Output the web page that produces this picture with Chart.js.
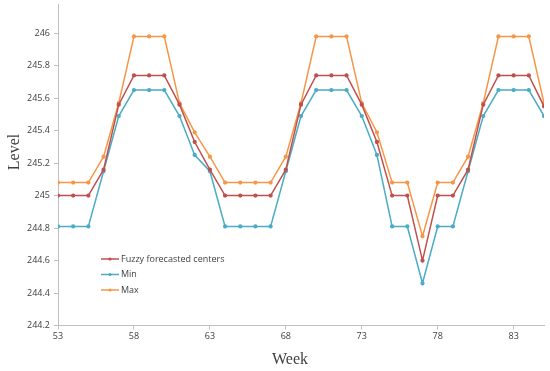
<!DOCTYPE html>
<html>
<head>
<meta charset="utf-8">
<script src="https://cdn.jsdelivr.net/npm/chart.js@4/dist/chart.umd.min.js"></script>
<style>
  html, body { margin: 0; padding: 0; background: #fff; }
  #wrap { width: 550px; height: 371px; }
</style>
</head>
<body>
<div id="wrap"><canvas id="myChart"></canvas></div>
<script>
// data
var weeks = [53,54,55,56,57,58,59,60,61,62,63,64,65,66,67,68,69,70,71,72,73,74,75,76,77,78,79,80,81,82,83,84,85];
var centers = [245.0,245.0,245.0,245.16,245.56,245.74,245.74,245.74,245.56,245.33,245.16,245.0,245.0,245.0,245.0,245.16,245.56,245.74,245.74,245.74,245.56,245.33,245.0,245.0,244.6,245.0,245.0,245.16,245.56,245.74,245.74,245.74,245.55];
var minVals = [244.81,244.81,244.81,245.15,245.49,245.65,245.65,245.65,245.49,245.25,245.15,244.81,244.81,244.81,244.81,245.15,245.49,245.65,245.65,245.65,245.49,245.25,244.81,244.81,244.46,244.81,244.81,245.15,245.49,245.65,245.65,245.65,245.49];
var maxVals = [245.08,245.08,245.08,245.24,245.57,245.98,245.98,245.98,245.57,245.39,245.24,245.08,245.08,245.08,245.08,245.24,245.57,245.98,245.98,245.98,245.57,245.39,245.08,245.08,244.75,245.08,245.08,245.24,245.57,245.98,245.98,245.98,245.57];
var xTicks = [53,58,63,68,73,78,83];
var yTicks = [244.2,244.4,244.6,244.8,245,245.2,245.4,245.6,245.8,246];

var red = '#c0504d', teal = '#4bacc6', orange = '#f79646';
var tickFont = { family: 'Open Sans', size: 9 };

function pts(vals) {
  return weeks.map(function (w, i) { return { x: w, y: vals[i] }; });
}

function ds(label, vals, color) {
  return {
    label: label,
    data: pts(vals),
    borderColor: color,
    backgroundColor: color,
    borderWidth: 1.5,
    pointRadius: 1.4,
    pointHoverRadius: 2,
    tension: 0
  };
}

// axis titles and legend drawn in place
var extras = {
  id: 'extras',
  afterDraw: function (chart) {
    var c = chart.ctx;
    c.save();
    c.fillStyle = '#404040';
    c.font = '16px "Liberation Serif"';
    c.textAlign = 'center';
    c.textBaseline = 'middle';
    c.fillText('Week', 290, 360);
    c.translate(15, 152);
    c.rotate(-Math.PI / 2);
    c.fillText('Level', 0, 0);
    c.restore();

    c.save();
    c.font = '9px "Open Sans"';
    c.textBaseline = 'middle';
    chart.data.datasets.forEach(function (d, i) {
      var y = 259 + i * 15.5;
      c.strokeStyle = d.borderColor;
      c.lineWidth = 1.5;
      c.beginPath();
      c.moveTo(101, y);
      c.lineTo(119, y);
      c.stroke();
      c.fillStyle = d.borderColor;
      c.beginPath();
      c.arc(110, y, 1.6, 0, Math.PI * 2);
      c.fill();
      c.fillStyle = '#404040';
      c.fillText(d.label, 121, y);
    });
    c.restore();
  }
};

var ctx = document.getElementById('myChart').getContext('2d');
var chart = new Chart(ctx, {
  type: 'line',
  data: {
    datasets: [
      ds('Fuzzy forecasted centers', centers, red),
      ds('Min', minVals, teal),
      ds('Max', maxVals, orange)
    ]
  },
  options: {
    responsive: true,
    maintainAspectRatio: false,
    animation: false,
    layout: { padding: { top: 4, right: 6, left: 0, bottom: 0 } },
    plugins: {
      legend: { display: false },
      tooltip: { enabled: false }
    },
    scales: {
      x: {
        type: 'linear',
        min: 53,
        max: 85,
        afterBuildTicks: function (s) { s.ticks = xTicks.map(function (v) { return { value: v }; }); },
        afterFit: function (s) { s.height = 45.5; s.paddingLeft = 0; s.paddingRight = 0; },
        grid: { display: true, drawOnChartArea: false, drawTicks: true, tickLength: 4, color: '#bfbfbf' },
        border: { display: true, color: '#bfbfbf', width: 1 },
        ticks: { font: tickFont, color: '#404040', padding: 2, maxRotation: 0 }
      },
      y: {
        type: 'linear',
        min: 244.2,
        max: 246.18,
        afterBuildTicks: function (s) { s.ticks = yTicks.map(function (v) { return { value: v }; }); },
        afterFit: function (s) { s.width = 58; s.paddingTop = 0; s.paddingBottom = 0; },
        grid: { display: true, drawOnChartArea: false, drawTicks: true, tickLength: 4, color: '#bfbfbf' },
        border: { display: true, color: '#bfbfbf', width: 1 },
        ticks: {
          font: tickFont, color: '#404040', padding: 4,
          callback: function (v) { return String(Math.round(v * 10) / 10); }
        }
      }
    }
  },
  plugins: [extras]
});
</script>
</body>
</html>
